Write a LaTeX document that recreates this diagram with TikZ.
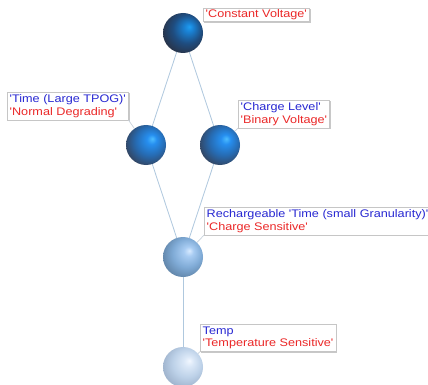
\documentclass[tikz,border=0pt]{standalone}
\usepackage{fontspec}
\newfontfamily\lbfont{Liberation Sans}[FakeStretch=1.15]
\usetikzlibrary{shadows}
\definecolor{tblue}{RGB}{40,40,210}
\definecolor{tred}{RGB}{235,40,40}
\definecolor{edgec}{RGB}{175,200,222}
\definecolor{leadc}{RGB}{200,210,220}
\pgfdeclareradialshading{sphTop}{\pgfpoint{8bp}{8bp}}{rgb(0bp)=(0.12,0.62,0.95); rgb(6bp)=(0.1,0.5,0.82); rgb(18bp)=(0.12,0.3,0.5); rgb(30bp)=(0.16,0.2,0.28); rgb(50bp)=(0.16,0.2,0.28)}
\pgfdeclareradialshading{sphMid}{\pgfpoint{8bp}{8bp}}{rgb(0bp)=(0.3,0.74,1); rgb(6bp)=(0.15,0.56,0.94); rgb(18bp)=(0.15,0.42,0.7); rgb(30bp)=(0.2,0.27,0.38); rgb(50bp)=(0.2,0.27,0.38)}
\pgfdeclareradialshading{sphLight}{\pgfpoint{8bp}{8bp}}{rgb(0bp)=(0.85,0.92,1); rgb(6bp)=(0.66,0.8,0.95); rgb(18bp)=(0.5,0.67,0.84); rgb(30bp)=(0.38,0.52,0.66); rgb(50bp)=(0.38,0.52,0.66)}
\pgfdeclareradialshading{sphPale}{\pgfpoint{8bp}{8bp}}{rgb(0bp)=(0.95,0.97,1); rgb(6bp)=(0.86,0.91,0.97); rgb(18bp)=(0.74,0.82,0.91); rgb(30bp)=(0.62,0.7,0.8); rgb(50bp)=(0.62,0.7,0.8)}
\begin{document}
\begin{tikzpicture}[x=1pt,y=-1pt,
  sph/.style={circle, minimum size=40pt, inner sep=0pt},
  lbl/.style={draw=gray!45, fill=white, anchor=north west, align=left,
    inner xsep=2.5pt, inner ysep=2.5pt,
    drop shadow={shadow xshift=1.2pt, shadow yshift=-1.2pt, fill=gray!60, opacity=0.7},
    font=\lbfont\fontsize{11}{12.5}\selectfont},
  edge/.style={draw=edgec, line width=0.8pt},
  lead/.style={draw=leadc, line width=0.7pt}]
\useasboundingbox (0,0) rectangle (428,385);
\fill[white] (0,0) rectangle (428,385);
\node[sph, shading=sphTop] (top) at (183,33) {};
\node[sph, shading=sphMid] (left) at (146,145) {};
\node[sph, shading=sphMid] (right) at (220,145) {};
\node[sph, shading=sphLight] (mid) at (183,257) {};
\node[sph, shading=sphPale] (bot) at (183,367) {};
\draw[edge] (top) -- (left);
\draw[edge] (top) -- (right);
\draw[edge] (left) -- (mid);
\draw[edge] (right) -- (mid);
\draw[edge] (mid) -- (bot);
\node[lbl, inner ysep=1.5pt] (ltop) at (203,8) {\color{tred}'Constant Voltage'};
\node[lbl] (lleft) at (7,92) {\color{tblue}'Time (Large TPOG)'\\\color{tred}'Normal Degrading'};
\node[lbl] (lright) at (238,100) {\color{tblue}'Charge Level'\\\color{tred}'Binary Voltage'};
\node[lbl] (lmid) at (204,207) {\color{tblue}Rechargeable 'Time (small Granularity)'\\\color{tred}'Charge Sensitive'};
\node[lbl] (lbot) at (200,324) {\color{tblue}Temp\\\color{tred}'Temperature Sensitive'};
\draw[lead] (lleft.south east) -- (left);
\draw[lead] (lright.south west) -- (right);
\draw[lead] (lmid.south west) -- (mid);
\draw[lead] (lbot.south west) -- (bot);
\end{tikzpicture}
\end{document}
